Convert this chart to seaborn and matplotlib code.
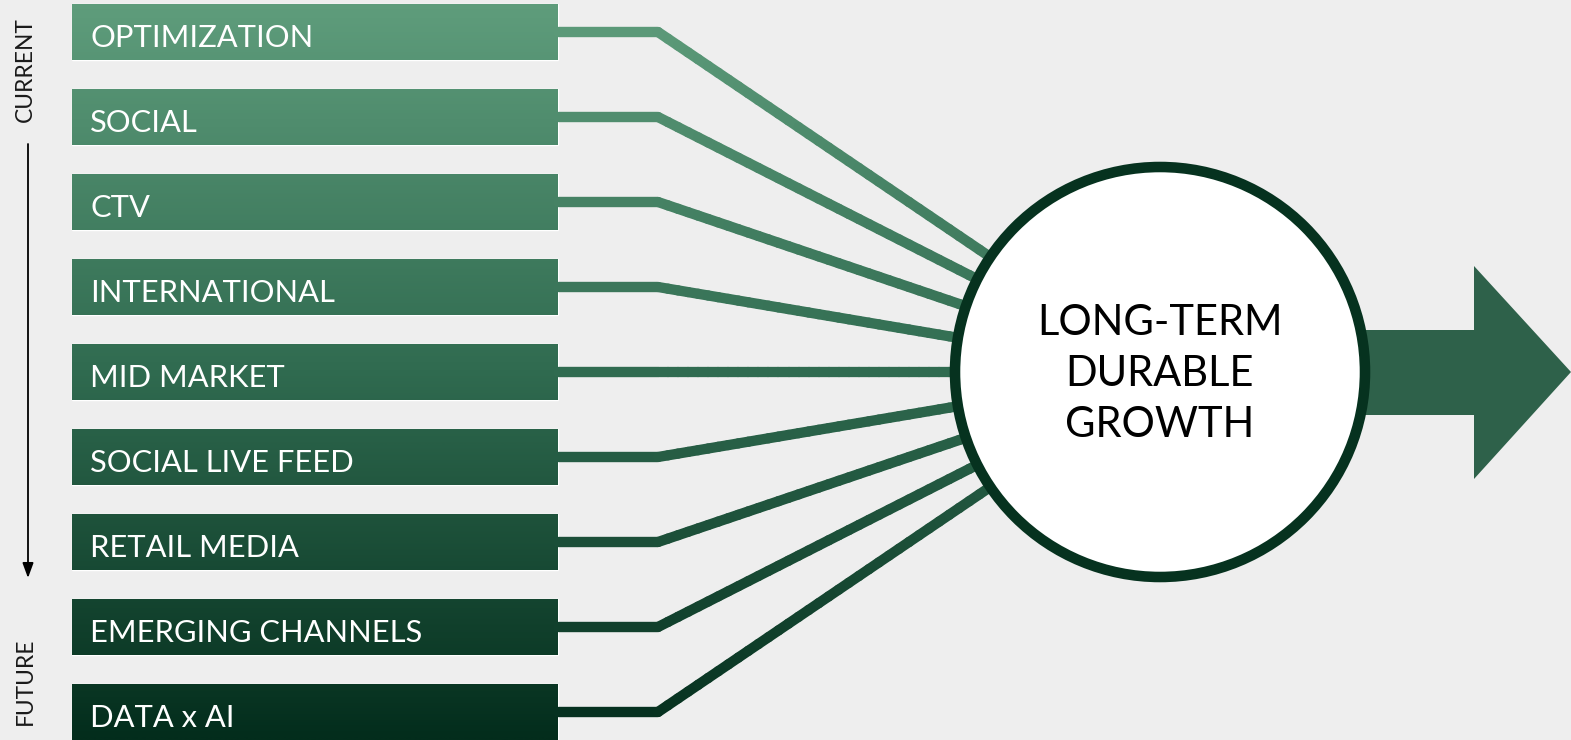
import numpy as np
import pandas as pd
import matplotlib
matplotlib.use("Agg")
import matplotlib.pyplot as plt
import seaborn as sns
from matplotlib.colors import LinearSegmentedColormap, Normalize
from matplotlib.collections import LineCollection
from matplotlib.patches import Circle, Polygon

# ---- content ----
channels = ["OPTIMIZATION", "SOCIAL", "CTV", "INTERNATIONAL", "MID MARKET",
            "SOCIAL LIVE FEED", "RETAIL MEDIA", "EMERGING CHANNELS", "DATA x AI"]
hub_label = "LONG-TERM\nDURABLE\nGROWTH"
axis_top = "CURRENT"
axis_bottom = "FUTURE"

# ---- layout (pixels) ----
W, H = 1571, 740
BAR_X0, BAR_LEN = 72, 486
ROW0, PITCH, BAR_H = 32, 85, 56
ELBOW_X = 658
HUB_X, HUB_Y, HUB_R = 1160, 372, 205

BG = "#eeeeee"
green = LinearSegmentedColormap.from_list(
    "grad", [(0, "#5f9d7c"), (0.5, "#306b50"), (1, "#032d1c")])
ynorm = Normalize(0, H)

sns.set_theme(style="white")
plt.rcParams["font.family"] = ["Lato", "DejaVu Sans"]

fig = plt.figure(figsize=(W / 100, H / 100), dpi=100, facecolor=BG)
ax_bar = fig.add_axes([0, 0, 1, 1])
ax = fig.add_axes([0, 0, 1, 1])

# --- channel bars ---
df = pd.DataFrame({"channel": channels, "span": BAR_LEN})
sns.barplot(data=df, x="span", y="channel", orient="h", width=BAR_H / PITCH,
            color=green(0.5), saturation=1, ax=ax_bar)

# vertical gradient inside each bar
for bar in ax_bar.patches:
    y0 = ROW0 + bar.get_y() * PITCH
    grad = np.linspace(y0, y0 + BAR_H, 60)[:, None]
    im = ax_bar.imshow(grad, cmap=green, norm=ynorm, aspect="auto", origin="upper",
                       extent=(bar.get_x(), bar.get_x() + bar.get_width(),
                               bar.get_y() + bar.get_height(), bar.get_y()),
                       zorder=bar.get_zorder() + 0.1)
    im.set_clip_path(bar)

for i, name in enumerate(channels):
    ax_bar.text(18, i + 0.045, name, color="white", fontsize=22.2, ha="left",
                va="center_baseline", zorder=5)

ax_bar.set_xlim(-BAR_X0, W - BAR_X0)
ax_bar.set_ylim((H - ROW0) / PITCH, -ROW0 / PITCH)
ax_bar.set_axis_off()

# --- connectors ---
for i in range(len(channels)):
    y = ROW0 + i * PITCH
    pts = np.array([[BAR_X0 + BAR_LEN, y], [ELBOW_X, y], [HUB_X, HUB_Y]], float)
    path = np.vstack([np.linspace(pts[k], pts[k + 1], 50, endpoint=False) for k in range(2)]
                     + [pts[-1:]])
    segs = np.stack([path[:-1], path[1:]], axis=1)
    lc = LineCollection(segs, cmap=green, norm=ynorm, linewidths=7.4,
                        capstyle="round", zorder=2)
    lc.set_array(segs[:, :, 1].mean(axis=1))
    ax.add_collection(lc)

# --- output arrow ---
ax.add_patch(Polygon([(HUB_X, 330), (1474, 330), (1474, 266), (1571, 372),
                      (1474, 479), (1474, 415), (HUB_X, 415)],
                     closed=True, facecolor="#2e614a", edgecolor="none", zorder=3))

# --- hub circle ---
ax.add_patch(Circle((HUB_X, HUB_Y), HUB_R, facecolor="white", edgecolor="#06321f",
                    linewidth=7.6, zorder=4))
ax.text(HUB_X, HUB_Y + 2, hub_label, ha="center", va="center", fontsize=30,
        linespacing=1.43, color="black", zorder=5)

# --- time axis ---
ax.text(25, 70, axis_top, rotation=90, ha="center", va="center", fontsize=16.4,
        color="#1a1a1a")
ax.text(25, 681, axis_bottom, rotation=90, ha="center", va="center", fontsize=16.4,
        color="#1a1a1a")
ax.annotate("", xy=(28, 578), xytext=(28, 144),
            arrowprops=dict(arrowstyle="-|>,head_length=0.6,head_width=0.22",
                            mutation_scale=15, color="black", lw=1.3,
                            shrinkA=0, shrinkB=0))

ax.set_xlim(0, W)
ax.set_ylim(H, 0)
ax.set_axis_off()

fig.savefig("out.png", dpi=100, facecolor=BG)
